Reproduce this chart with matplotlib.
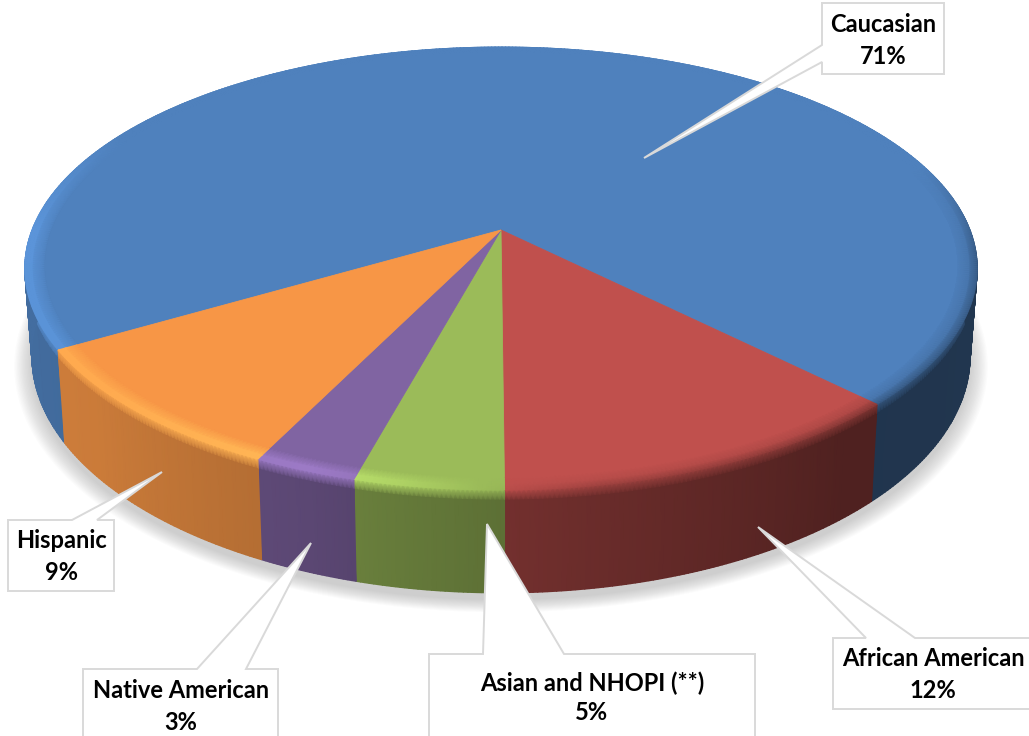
import numpy as np
import matplotlib
matplotlib.use("Agg")
import matplotlib.pyplot as plt
from matplotlib.colors import to_rgb

plt.rcParams['font.family'] = ['Lato', 'DejaVu Sans']

labels = ["Caucasian", "African American", "Asian and NHOPI (**)", "Native American", "Hispanic"]
values = [71, 12, 5, 3, 9]
shares = [71.1, 12.3, 4.3, 3.0, 9.3]
colors = ["#4f81bd", "#c0504d", "#9bbb59", "#8064a2", "#f79646"]

# callout boxes in pixels: left, right, top, bottom, pointer base a, pointer base b, tip, side of the box
boxes = {
    "Caucasian": (822, 944, 3, 74, 45, 62, (644, 158), "left"),
    "African American": (833, 1040, 638, 709, 866, 915, (758, 527), "top"),
    "Asian and NHOPI (**)": (429, 755, 654, 750, 483, 564, (487, 524), "top"),
    "Native American": (83, 278, 669, 750, 197, 246, (311, 543), "top"),
    "Hispanic": (8, 114, 520, 591, 72, 97, (162, 472), "top"),
}
text_pos = {
    "Caucasian": (883, 25, 56),
    "African American": (933, 659, 690),
    "Asian and NHOPI (**)": (592, 683, 713),
    "Native American": (181, 691, 722),
    "Hispanic": (61, 541, 572),
}

# projection of the disc, fitted to the picture
cx, cy = 501, 230
R, H, k = 469, 214.8, 0.174
depth = 85
start_ang = -59.4

# shading round the rim, by angle from the front (right is positive)
shade_ang = [-180, -118, -90, -50, -20, -10, 10, 40, 85, 108, 180]
wall_shade = [0.85, 0.85, 0.85, 0.82, 0.71, 0.65, 0.55, 0.41, 0.42, 0.42, 0.42]
rim_shade = [1.0, 1.0, 1.15, 1.13, 1.22, 1.12, 0.82, 0.68, 0.7, 1.0, 1.0]


def project(theta, r=1.0, z=0.0):
    t = np.radians(theta)
    u, v = r * np.sin(t), r * np.cos(t)
    s = 1 / (1 - k * v)
    x = cx + R * u * s * (1 - 0.015 * z / depth)
    y = cy + (H * v + z) * s
    return x, y


def shade(theta, table):
    wrapped = (np.asarray(theta) + 180) % 360 - 180
    return np.interp(wrapped, shade_ang, table)


def mesh(theta, rows, col_rows):
    # rows: list of (r, z); col_rows: list of rgb arrays along theta
    X = np.array([project(theta, r, z)[0] for r, z in rows])
    Y = np.array([project(theta, r, z)[1] for r, z in rows])
    C = np.clip(np.stack(col_rows), 0, 1)
    return X, Y, C


fig = plt.figure(figsize=(10.29, 7.36), dpi=100)
ax = fig.add_axes([0, 0, 1, 1])
ax.set_xlim(0, 1029)
ax.set_ylim(736, 0)
ax.axis("off")

# soft shadow under the pie
circle = np.linspace(0, 360, 361)
for grow in np.linspace(17, 0, 14):
    x, y = project(circle, 1 + grow / R, depth)
    ax.fill(x, y + 7, color="#666666", alpha=0.024, lw=0, zorder=1)

edges = start_ang - np.cumsum([0] + shares) * 3.6
slices = [(lab, col, edges[i], edges[i + 1]) for i, (lab, col) in enumerate(zip(labels, colors))]

# side walls first, the back part ends up under the top face
for lab, col, a0, a1 in slices:
    base = np.array(to_rgb(col))
    theta = np.linspace(a0, a1, int(abs(a1 - a0)) * 2 + 4)
    wall = np.outer(shade(theta, wall_shade), base)
    rim = np.outer(shade(theta, rim_shade), base)
    X, Y, C = mesh(theta, [(1, 0), (1, 0.1 * depth), (1, depth)], [rim, wall, wall])
    ax.pcolormesh(X, Y, C, shading="gouraud", zorder=2)

# top faces
for lab, col, a0, a1 in slices:
    theta = np.linspace(a0, a1, int(abs(a1 - a0)) * 2 + 4)
    x, y = project(theta, 0.97)
    ax.fill(np.r_[cx, x], np.r_[cy, y], color=col, lw=0.6, zorder=3)

# bevel along the edge of the top, only the lit side gets a wide band
for lab, col, a0, a1 in slices:
    base = np.array(to_rgb(col))
    theta = np.linspace(a0, a1, int(abs(a1 - a0)) * 2 + 4)
    f = shade(theta, rim_shade)
    flat = np.outer(np.ones_like(theta), base)
    rim = np.outer(f, base)
    mid = np.outer(np.where(f > 1, f, (2 + f) / 3), base)
    X, Y, C = mesh(theta, [(0.96, 0), (0.985, 0), (1, 0)], [flat, mid, rim])
    ax.pcolormesh(X, Y, C, shading="gouraud", zorder=4)

# callouts
for lab in labels:
    l, r, t, b, p0, p1, tip, side = boxes[lab]
    if side == "left":
        xs = [l, r, r, l, l, tip[0], l, l]
        ys = [t, t, b, b, p1, tip[1], p0, t]
    else:
        xs = [l, p0, tip[0], p1, r, r, l, l]
        ys = [t, t, tip[1], t, t, b, b, t]
    ax.fill(xs, ys, facecolor="white", edgecolor="#d9d9d9", lw=1.4, joinstyle="miter", zorder=5)

for lab, val in zip(labels, values):
    x, y0, y1 = text_pos[lab]
    ax.text(x, y0, lab, ha="center", va="center", fontsize=17, fontweight="bold", color="black", zorder=6)
    ax.text(x, y1, f"{val}%", ha="center", va="center", fontsize=17, fontweight="bold", color="black", zorder=6)

fig.savefig("out.png", dpi=100)
